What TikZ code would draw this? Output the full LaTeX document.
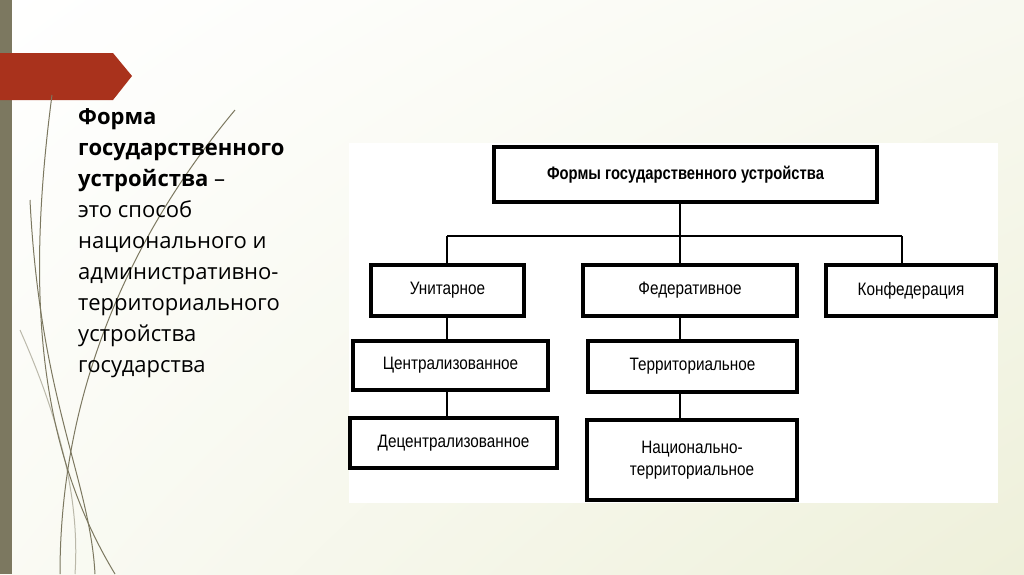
\documentclass[tikz,border=0pt]{standalone}
\usepackage{fontspec}
\usetikzlibrary{shadings}
\setmainfont{Open Sans}
\newfontfamily\boxfont{Liberation Sans}
\definecolor{barc}{HTML}{7C7860}
\definecolor{redc}{HTML}{A9321C}
\definecolor{bgc}{HTML}{EEF0DA}
\begin{document}
\begin{tikzpicture}[x=1pt,y=-1pt,
  bx/.style={draw=black,line width=3.2pt,fill=white,inner sep=0pt,font=\boxfont\fontsize{18}{20}\selectfont,align=center},
  ln/.style={line width=1.2pt}]
\useasboundingbox (0,0) rectangle (1024,574);
\shade[upper left=white,upper right=white!60!bgc,lower left=white!70!bgc,lower right=bgc] (0,0) rectangle (1024,574);
\fill[barc] (0,0) rectangle (12,574);
\fill[redc] (0,53) -- (113,53) -- (132,76) -- (113,100) -- (0,100) -- cycle;
% decorative curves
\begin{scope}[line width=1pt,draw=barc]
\draw (52,95) .. controls (25,300) and (40,450) .. (115,574);
\draw (30,200) .. controls (40,400) and (90,480) .. (95,574);
\draw (235,110) .. controls (110,260) and (60,420) .. (60,574);
\draw[opacity=.5] (20,330) .. controls (60,420) and (80,500) .. (75,574);
\end{scope}
\node[anchor=north west,align=left,inner sep=0pt,font=\fontsize{22}{31}\selectfont] (def) at (78,108)
 {\textbf{Форма}\\ \textbf{государственного}\\ \textbf{устройства} –\\ это способ\\ национального и\\ административно-\\ территориального\\ устройства\\ государства};
\fill[white] (349,143) rectangle (998,503);
\node[bx,minimum width=383,minimum height=55,font=\boxfont\bfseries\fontsize{18}{20}\selectfont] (top) at (685.5,174.5) {\scalebox{0.82}[1]{Формы государственного устройства}};
\node[bx,minimum width=153,minimum height=51] (u) at (447.5,290.5) {\scalebox{0.85}[1]{Унитарное}};
\node[bx,minimum width=214,minimum height=51] (f) at (690,290.5) {\scalebox{0.85}[1]{Федеративное}};
\node[bx,minimum width=170,minimum height=51] (k) at (911,290.5) {\scalebox{0.85}[1]{Конфедерация}};
\node[bx,minimum width=195,minimum height=49] (c) at (450.5,365.5) {\scalebox{0.85}[1]{Централизованное}};
\node[bx,minimum width=209,minimum height=51] (t) at (692.5,366.5) {\scalebox{0.85}[1]{Территориальное}};
\node[bx,minimum width=207,minimum height=50] (d) at (453.5,443) {\scalebox{0.85}[1]{Децентрализованное}};
\node[bx,minimum width=210,minimum height=80] (n) at (692,460) {\scalebox{0.85}[1]{\shortstack{Национально-\\[6pt]территориальное}}};
\coordinate (hl) at (447,236); \coordinate (hr) at (902,236);
\draw[ln] (hl) -- (hr);
\draw[ln] (top.south -| 680,0) -- (f.north -| 680,0);
\draw[ln] (hl) -- (u.north -| hl);
\draw[ln] (hr) -- (k.north -| hr);
\draw[ln] (u.south -| 447,0) -- (c.north -| 447,0);
\draw[ln] (c.south -| 447,0) -- (d.north -| 447,0);
\draw[ln] (f.south -| 680,0) -- (t.north -| 680,0);
\draw[ln] (t.south -| 680,0) -- (n.north -| 680,0);
\end{tikzpicture}
\end{document}
